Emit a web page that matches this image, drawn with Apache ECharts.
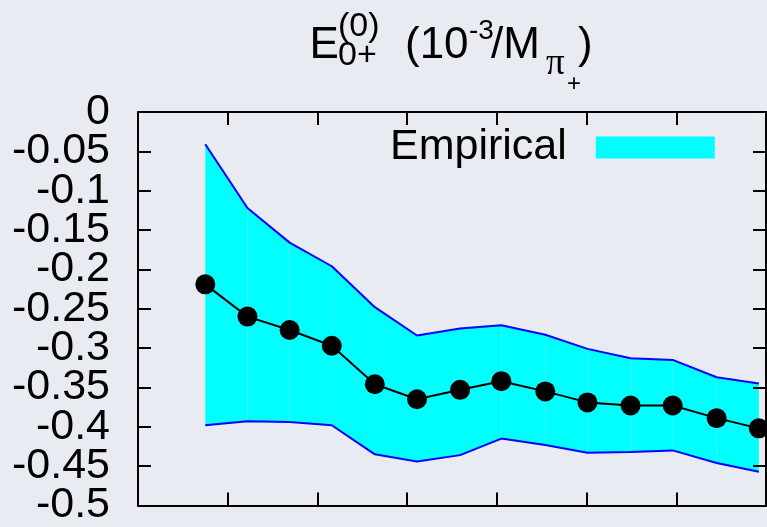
<!DOCTYPE html>
<html><head><meta charset="utf-8">
<script src="https://cdn.jsdelivr.net/npm/echarts@6/dist/echarts.min.js"></script>
<style>html,body{margin:0;padding:0;background:#e8ecf2}#c{width:767px;height:527px}</style>
</head><body><div id="c"></div>
<script>
const xValues     = [7.5, 12.2, 16.9, 21.6, 26.4, 31.1, 35.9, 40.5, 45.4, 50.1, 54.9, 59.6, 64.5, 69.2];
const meanValues  = [-0.219, -0.260, -0.277, -0.297, -0.346, -0.365, -0.353, -0.342, -0.355, -0.369, -0.373, -0.373, -0.389, -0.402];
const upperValues = [-0.041, -0.122, -0.166, -0.196, -0.248, -0.284, -0.275, -0.271, -0.283, -0.301, -0.313, -0.315, -0.337, -0.345];
const lowerValues = [-0.398, -0.393, -0.394, -0.398, -0.435, -0.444, -0.436, -0.415, -0.423, -0.433, -0.432, -0.430, -0.446, -0.457];
const legendName  = 'Empirical';

const FONT = 'Liberation Sans, Arial, Helvetica, sans-serif';
const chart = echarts.init(document.getElementById('c'));

const axisCommon = {
  type: 'value', z: 10,
  axisLine: { show: true, onZero: false, lineStyle: { color: '#000', width: 2 } },
  axisTick: { show: true, inside: true, length: 13, lineStyle: { color: '#000', width: 2 } },
  splitLine: { show: false }
};
const yLabelStyle = { show: true, color: '#000', fontSize: 43, fontFamily: FONT, margin: 28 };

function t(text, x, y, size, family) {
  return { type: 'text', silent: true,
    style: { text: text, x: x, y: y, fill: '#000', fontSize: size,
      fontFamily: family || FONT, align: 'left', verticalAlign: 'middle',
      textAlign: 'left', textVerticalAlign: 'middle' } };
}

// band segments built from the arrays: [x0, up0, lo0, x1, up1, lo1]
const bandSegments = [];
for (let i = 0; i < xValues.length - 1; i++) {
  bandSegments.push([xValues[i], upperValues[i], lowerValues[i], xValues[i + 1], upperValues[i + 1], lowerValues[i + 1]]);
}

chart.setOption({
  backgroundColor: '#e8ecf2',
  animation: false,
  grid: { left: 138, right: 1, top: 112, bottom: 17 },
  xAxis: [
    Object.assign({}, axisCommon, { position: 'bottom', min: 0, max: 70, interval: 10, axisLabel: { show: false } }),
    Object.assign({}, axisCommon, { position: 'top', min: 0, max: 70, interval: 10, axisLabel: { show: false } })
  ],
  yAxis: [
    // inner labels (-0.05 ... -0.45)
    Object.assign({}, axisCommon, { position: 'left', min: -0.5, max: 0, interval: 0.05,
      axisLabel: Object.assign({}, yLabelStyle, { showMinLabel: false, showMaxLabel: false }) }),
    Object.assign({}, axisCommon, { position: 'right', min: -0.5, max: 0, interval: 0.05, axisLabel: { show: false } }),
    // end labels (0 and -0.5)
    { type: 'value', position: 'left', min: -0.5, max: 0, interval: 0.5,
      axisLine: { show: false }, axisTick: { show: false }, splitLine: { show: false },
      axisLabel: Object.assign({}, yLabelStyle, { showMinLabel: true, showMaxLabel: true }) }
  ],
  legend: {
    data: [{ name: legendName, icon: 'rect' }],
    align: 'right', left: 390, top: 126, padding: 0,
    itemWidth: 119, itemHeight: 22,
    itemStyle: { color: '#00ffff', borderWidth: 0 },
    textStyle: { color: '#000', fontSize: 43, fontFamily: FONT, lineHeight: 42, padding: [0, 24, 0, 0] },
    selectedMode: false
  },
  graphic: [
    t('E', 309.5, 45.5, 44),
    t('(0)', 338, 27, 34),
    t('0+', 338, 56, 34),
    t('(10', 405, 45.5, 44),
    t('-3', 469, 31, 28),
    t('/M', 491, 45.5, 44),
    t('\u03c0', 546, 64, 37, 'Liberation Serif, DejaVu Serif, serif'),
    t('+', 567, 84, 24),
    t(')', 578, 45.5, 44)
  ],
  series: [
    {
      name: legendName, type: 'custom',
      data: bandSegments,
      encode: { x: [0, 3], y: [1, 2, 4, 5] },
      itemStyle: { color: '#00ffff' },
      renderItem: function (params, api) {
        const p0u = api.coord([api.value(0), api.value(1)]);
        const p0l = api.coord([api.value(0), api.value(2)]);
        const p1u = api.coord([api.value(3), api.value(4)]);
        const p1l = api.coord([api.value(3), api.value(5)]);
        return { type: 'polygon', shape: { points: [p0u, p1u, p1l, p0l] },
          style: { fill: '#00ffff' } };
      },
      z: 2, clip: false
    },
    {
      name: 'upper', type: 'line',
      data: xValues.map((x, i) => [x, upperValues[i]]),
      symbol: 'none', lineStyle: { color: '#0000ff', width: 2 }, z: 3, clip: false
    },
    {
      name: 'lower', type: 'line',
      data: xValues.map((x, i) => [x, lowerValues[i]]),
      symbol: 'none', lineStyle: { color: '#0000ff', width: 2 }, z: 3, clip: false
    },
    {
      name: 'mean', type: 'line',
      data: xValues.map((x, i) => [x, meanValues[i]]),
      symbol: 'circle', symbolSize: 20,
      itemStyle: { color: '#000' }, lineStyle: { color: '#000', width: 2 }, z: 5, clip: false
    }
  ]
});
</script></body></html>
